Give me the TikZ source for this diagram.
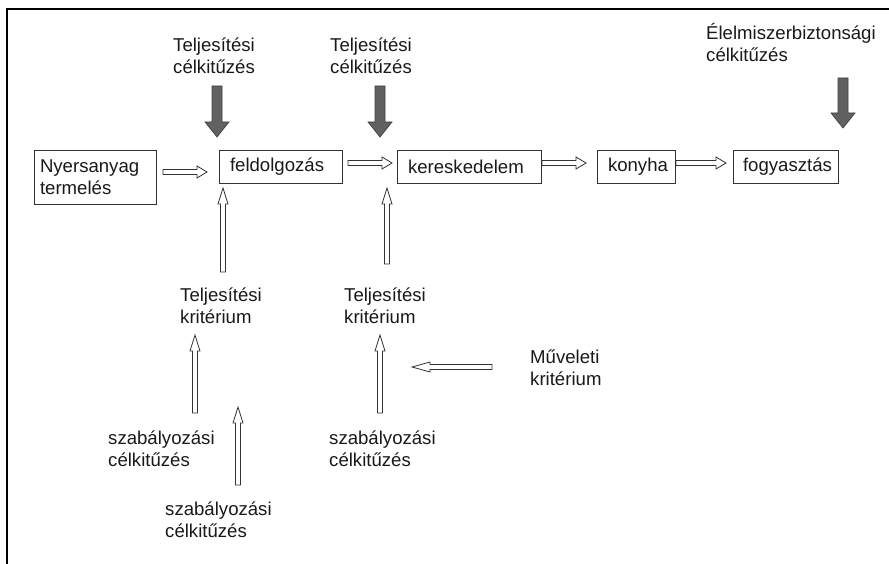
\documentclass[tikz,border=0pt]{standalone}
\usepackage{fontspec}
\setmainfont{Liberation Sans}
\usetikzlibrary{calc}
\tikzset{
  lbl/.style={inner sep=0pt, align=left, anchor=north west, text=black!90,
    font=\fontsize{18.6}{22}\selectfont},
  box/.style={draw=black!80, line width=0.9pt, align=left, inner ysep=0pt,
    text=black!90, font=\fontsize{18.6}{22}\selectfont},
  hollow/.style={draw=black!80, fill=white, line width=0.8pt, line join=miter},
  dark/.style={draw=black!75, fill=black!62, line width=0.7pt},
  frame/.style={draw=black, line width=1.6pt}
}
% vertical block arrow: from, to, shaft half width, head half width, head length, style
\newcommand\varrow[6]{%
  \draw[#6] let \p1=(#1), \p2=(#2), \n1={sign(\y2-\y1)} in
    (\x1-#3,\y1) -- (\x1-#3,\y2-\n1*#5) -- (\x1-#4,\y2-\n1*#5) -- (\x1,\y2)
    -- (\x1+#4,\y2-\n1*#5) -- (\x1+#3,\y2-\n1*#5) -- (\x1+#3,\y1) -- cycle;}
% horizontal block arrow
\newcommand\harrow[6]{%
  \draw[#6] let \p1=(#1), \p2=(#2), \n1={sign(\x2-\x1)} in
    (\x1,\y1-#3) -- (\x2-\n1*#5,\y1-#3) -- (\x2-\n1*#5,\y1-#4) -- (\x2,\y1)
    -- (\x2-\n1*#5,\y1+#4) -- (\x2-\n1*#5,\y1+#3) -- (\x1,\y1+#3) -- cycle;}
\begin{document}
\begin{tikzpicture}[x=1pt, y=-1pt]
\useasboundingbox (0,0) rectangle (889,564);
\draw[frame] (7,565) -- (7,9) -- (890,9);

% process boxes
\node[box, text width=110pt, inner xsep=6pt, minimum height=54pt] (N) at (95,177) {Nyersanyag\\termelés};
\node[box, text width=101pt, inner xsep=11pt, minimum height=33pt] (F) at (280.5,166.5) {feldolgozás};
\node[box, text width=122pt, inner xsep=11pt, minimum height=33pt] (K) at (469,166.5) {kereskedelem};
\node[box, text width=56pt, inner xsep=11pt, minimum height=33pt] (Ko) at (636,166.5) {konyha};
\node[box, text width=85pt, inner xsep=10pt, minimum height=33pt] (Fo) at (785.5,166.5) {fogyasztás};

% labels
\node[lbl] (tc1) at (173,38) {Teljesítési\\célkitűzés};
\node[lbl] (tc2) at (330,38) {Teljesítési\\célkitűzés};
\node[lbl] (ec) at (706,23) {Élelmiszerbiztonsági\\célkitűzés};
\node[lbl] (tk1) at (180,288) {Teljesítési\\kritérium};
\node[lbl] (tk2) at (344,288) {Teljesítési\\kritérium};
\node[lbl] (sc1) at (108,431) {szabályozási\\célkitűzés};
\node[lbl] (sc2) at (165,502) {szabályozási\\célkitűzés};
\node[lbl] (sc3) at (329,431) {szabályozási\\célkitűzés};
\node[lbl] (mk) at (530,350) {Műveleti\\kritérium};

% connector end points
\coordinate (d1s) at (217,86);  \coordinate (d1e) at (217,137);
\coordinate (d2s) at (380,86);  \coordinate (d2e) at (380,137);
\coordinate (d3s) at (843,78);  \coordinate (d3e) at (843,128);
\coordinate (h1s) at (163,172); \coordinate (h1e) at (207,172);
\coordinate (h2s) at (348,163); \coordinate (h2e) at (392,163);
\coordinate (h3s) at (542,163); \coordinate (h3e) at (586,163);
\coordinate (h4s) at (676,163); \coordinate (h4e) at (726,163);
\coordinate (v1s) at (223,272); \coordinate (v1e) at (223,188);
\coordinate (v2s) at (387,264); \coordinate (v2e) at (387,188);
\coordinate (v3s) at (195,413); \coordinate (v3e) at (195,335);
\coordinate (v4s) at (238,485); \coordinate (v4e) at (238,407);
\coordinate (v5s) at (380,413); \coordinate (v5e) at (380,335);
\coordinate (ls) at (492,367);  \coordinate (le) at (412,367);

% dark goal arrows
\varrow{d1s}{d1e}{5pt}{12pt}{15pt}{dark}
\varrow{d2s}{d2e}{5pt}{12pt}{15pt}{dark}
\varrow{d3s}{d3e}{5pt}{12pt}{15pt}{dark}

% hollow flow arrows
\harrow{h1s}{h1e}{2.5pt}{6pt}{10pt}{hollow}
\harrow{h2s}{h2e}{2.5pt}{6pt}{10pt}{hollow}
\harrow{h3s}{h3e}{2.5pt}{6pt}{10pt}{hollow}
\harrow{h4s}{h4e}{2.5pt}{6pt}{10pt}{hollow}

\varrow{v1s}{v1e}{2.5pt}{5pt}{16pt}{hollow}
\varrow{v2s}{v2e}{2.5pt}{5pt}{16pt}{hollow}
\varrow{v3s}{v3e}{2.5pt}{5pt}{16pt}{hollow}
\varrow{v4s}{v4e}{2.5pt}{5pt}{16pt}{hollow}
\varrow{v5s}{v5e}{2.5pt}{5pt}{16pt}{hollow}
\harrow{ls}{le}{2.5pt}{5pt}{18pt}{hollow}
\end{tikzpicture}
\end{document}
